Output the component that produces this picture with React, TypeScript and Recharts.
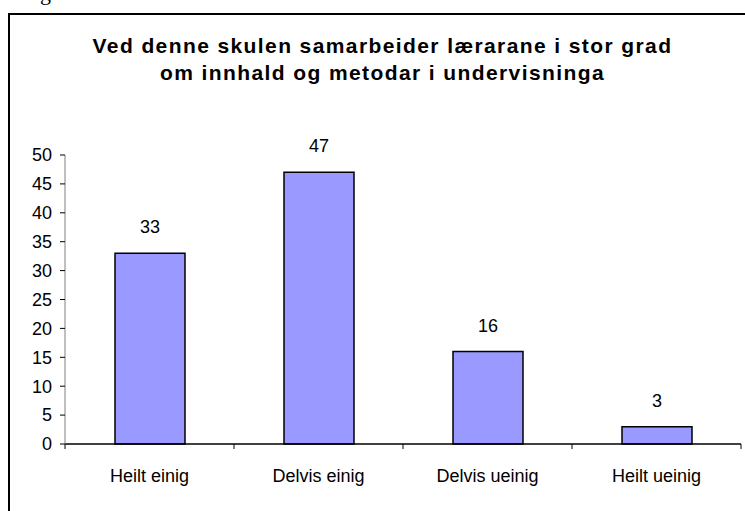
import React from 'react';
import { BarChart, Bar, XAxis, YAxis, LabelList } from 'recharts';

const categories = ['Heilt einig', 'Delvis einig', 'Delvis ueinig', 'Heilt ueinig'];
const values = [33, 47, 16, 3];
const yTicks = [0, 5, 10, 15, 20, 25, 30, 35, 40, 45, 50];

const titleLines = [
  'Ved denne skulen samarbeider lærarane i stor grad',
  'om innhald og metodar i undervisninga'
];

const data = categories.map((name, i) => ({ name, value: values[i] }));

const font = 'Arial, "Liberation Sans", sans-serif';
const X_TICK_MARGIN = 24;

// category label plus Excel-style tick marks between the categories
function CategoryTick(props: any) {
  const { x, y, payload, index, width, visibleTicksCount } = props;
  const step = width / visibleTicksCount;
  const axisY = y - X_TICK_MARGIN;
  const left = x - step / 2;
  return (
    <g>
      <line x1={left} y1={axisY} x2={left} y2={axisY + 5} stroke="#000" />
      {index === visibleTicksCount - 1 && (
        <line x1={left + step} y1={axisY} x2={left + step} y2={axisY + 5} stroke="#000" />
      )}
      <text
        x={x}
        y={y + 14}
        textAnchor="middle"
        fill="#000"
        fontSize={18}
        fontFamily={font}
      >
        {payload.value}
      </text>
    </g>
  );
}

export default function App(): React.ReactElement {
  return (
    <div
      style={{
        position: 'fixed',
        left: 0,
        top: 0,
        width: 745,
        height: 511,
        overflow: 'hidden',
        background: '#fff',
        fontFamily: font
      }}
    >
      {/* descender of text above the figure */}
      <div
        style={{
          position: 'absolute',
          left: 40,
          top: -18,
          fontFamily: 'serif',
          fontSize: 22,
          lineHeight: '22px'
        }}
      >
        g
      </div>
      {/* frame: only top and left edges fall inside the crop */}
      <div
        style={{
          position: 'absolute',
          left: 8,
          top: 13,
          right: 0,
          height: 2,
          background: '#000'
        }}
      />
      <div
        style={{
          position: 'absolute',
          left: 8,
          top: 13,
          bottom: 0,
          width: 2,
          background: '#000'
        }}
      />
      <div
        style={{
          position: 'absolute',
          left: 0,
          top: 32,
          width: 765,
          textAlign: 'center',
          fontWeight: 'bold',
          fontSize: 21,
          letterSpacing: 1.4,
          lineHeight: '27px'
        }}
      >
        {titleLines.map((t) => (
          <div key={t}>{t}</div>
        ))}
      </div>
      <div style={{ position: 'absolute', left: 0, top: 0 }}>
        <BarChart
          width={745}
          height={511}
          data={data}
          margin={{ top: 155, right: 4, left: 0, bottom: 0 }}
          barCategoryGap={0}
        >
          <XAxis
            dataKey="name"
            height={67}
            tickLine={false}
            tickSize={0}
            tickMargin={X_TICK_MARGIN}
            axisLine={{ stroke: '#000', strokeWidth: 1.5 }}
            tick={<CategoryTick />}
            interval={0}
          />
          <YAxis
            width={65}
            domain={[0, 50]}
            ticks={yTicks}
            interval={0}
            tickSize={5}
            tickMargin={8}
            axisLine={{ stroke: '#808080' }}
            tickLine={{ stroke: '#000' }}
            tick={{ fill: '#000', fontSize: 18, fontFamily: font }}
          />
          <Bar
            dataKey="value"
            barSize={70}
            fill="#9999FF"
            stroke="#000"
            strokeWidth={1.5}
            isAnimationActive={false}
          >
            <LabelList
              dataKey="value"
              position="top"
              offset={20}
              style={{ fill: '#000', fontSize: 18, fontFamily: font }}
            />
          </Bar>
        </BarChart>
      </div>
    </div>
  );
}
